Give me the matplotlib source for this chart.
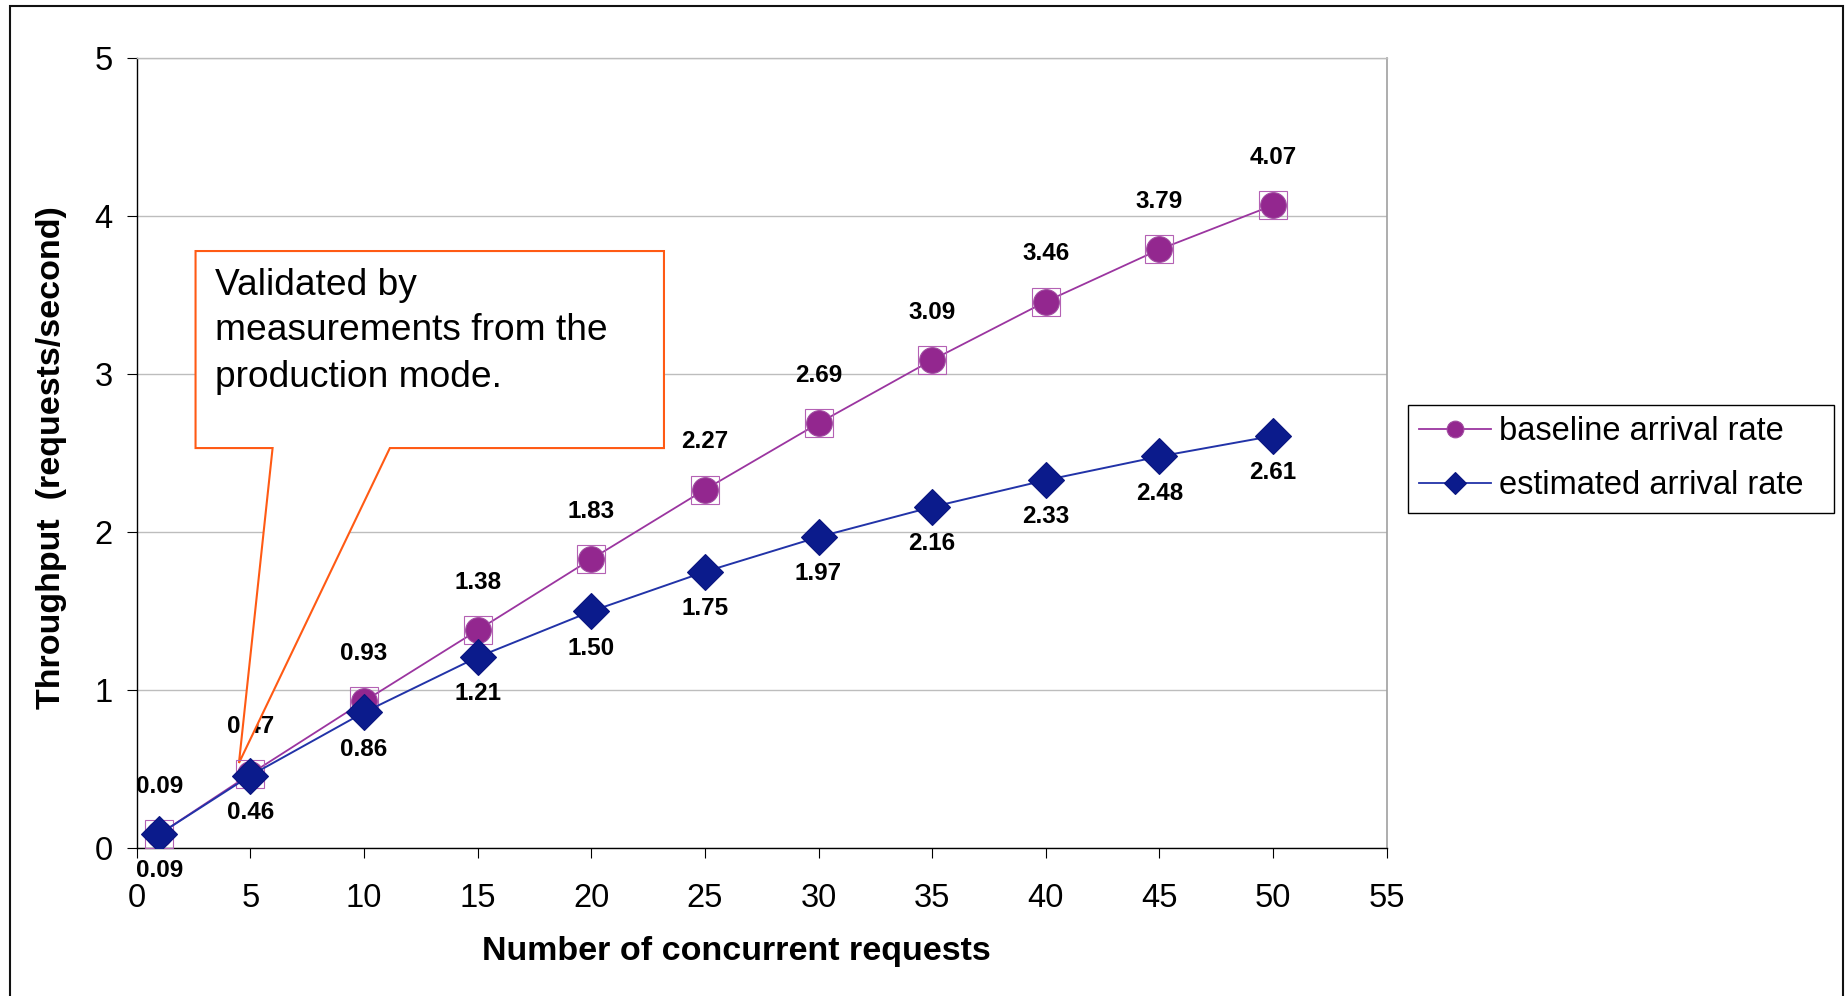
import matplotlib

matplotlib.use("Agg")

from matplotlib import pyplot as plt
from matplotlib.patches import Polygon, Rectangle

plt.rcParams["font.family"] = ["Liberation Sans", "DejaVu Sans"]

requests = [1, 5, 10, 15, 20, 25, 30, 35, 40, 45, 50]
baseline_rate = [0.09, 0.47, 0.93, 1.38, 1.83, 2.27, 2.69, 3.09, 3.46, 3.79, 4.07]
estimated_rate = [0.09, 0.46, 0.86, 1.21, 1.50, 1.75, 1.97, 2.16, 2.33, 2.48, 2.61]
x_ticks = [0, 5, 10, 15, 20, 25, 30, 35, 40, 45, 50, 55]
y_ticks = [0, 1, 2, 3, 4, 5]

PURPLE = "#93278F"
NAVY = "#0B1B8C"
ORANGE = "#FF5A14"

fig = plt.figure(figsize=(18.47, 9.96), dpi=100)
ax = fig.add_axes([0.0740, 0.1483, 0.6768, 0.7932])
ax.set_xlim(0, 55)
ax.set_ylim(0, 5)
ax.set_xticks(x_ticks)
ax.set_yticks(y_ticks)
ax.tick_params(labelsize=23.5, length=7.2, width=0.8, direction="out", color="black")
ax.tick_params(axis="y", pad=10)
ax.tick_params(axis="x", pad=18)

ax.grid(axis="y", color="#BDBDBD", linewidth=1.0, zorder=0)
ax.spines["left"].set_linewidth(1.0)
ax.spines["bottom"].set_linewidth(1.0)
ax.spines["right"].set_color("#A0A0A0")
ax.spines["top"].set_color("#BDBDBD")
ax.spines["right"].set_linewidth(1.2)
ax.spines["top"].set_linewidth(1.0)

# lines and markers
ax.plot(requests, baseline_rate, color="#9B35A0", linewidth=1.3, marker="s", markersize=19.5,
        markerfacecolor="none", markeredgecolor="#B461B4", markeredgewidth=0.8, zorder=5)
ax.plot(requests, baseline_rate, color="#9B35A0", linewidth=0, marker="o", markersize=18.5,
        markerfacecolor=PURPLE, markeredgecolor="#A04AA0", markeredgewidth=0.8, zorder=6,
        label="baseline arrival rate")
ax.plot(requests, estimated_rate, color="#2233A8", linewidth=1.4, marker="D", markersize=18,
        markerfacecolor=NAVY, markeredgecolor="#0A1580", markeredgewidth=0.8, zorder=7,
        label="estimated arrival rate")

# data labels
for x, v in zip(requests, baseline_rate):
    ax.annotate(f"{v:.2f}", (x, v), xytext=(0, 34.5), textcoords="offset points",
                ha="center", va="center", fontsize=17.5, fontweight="bold", zorder=3)
for x, v in zip(requests, estimated_rate):
    ax.annotate(f"{v:.2f}", (x, v), xytext=(0, -26.5), textcoords="offset points",
                ha="center", va="center", fontsize=17.5, fontweight="bold", zorder=3)

# callout
callout = Polygon(
    [(2.59, 3.78), (23.2, 3.78), (23.2, 2.533), (11.14, 2.533), (4.5, 0.54),
     (5.98, 2.533), (2.59, 2.533)],
    closed=True, facecolor="white", edgecolor=ORANGE, linewidth=1.5, zorder=4,
)
ax.add_patch(callout)
for y, line in zip([3.502, 3.217, 2.921], ["Validated by", "measurements from the", "production mode."]):
    ax.text(3.45, y, line, fontsize=26.7, ha="left", va="baseline", zorder=4)

ax.set_xlabel("Number of concurrent requests", fontsize=24.5, fontweight="bold", va="center")
ax.xaxis.set_label_coords(0.4794, -0.131)
ax.set_ylabel("Throughput  (requests/second)", fontsize=24.5, fontweight="bold", va="center")
ax.yaxis.set_label_coords(-0.0679, 0.494)

leg_x0, leg_x1 = 1408 / 1847, 1834 / 1847
leg = ax.legend(loc="upper left", bbox_to_anchor=(leg_x0, 1 - 405 / 996, leg_x1 - leg_x0, 0),
                bbox_transform=fig.transFigure, mode="expand", fontsize=23.5, frameon=True,
                fancybox=False, framealpha=1, edgecolor="black", borderpad=0.35, labelspacing=0.7,
                handlelength=2.2, handletextpad=0.25, markerscale=0.65, borderaxespad=0)
leg.get_frame().set_linewidth(1.0)
for line in leg.get_lines():
    line.set_linewidth(1.3)
leg.get_lines()[0].set_color("#9B35A0")

# outer chart border
fig.patches.append(Rectangle((10 / 1847, -0.02), 1833 / 1847, 1.02 - 5.7 / 996, transform=fig.transFigure,
                             facecolor="none", edgecolor="#111111", linewidth=1.5))

fig.savefig("out.png", dpi=100)
